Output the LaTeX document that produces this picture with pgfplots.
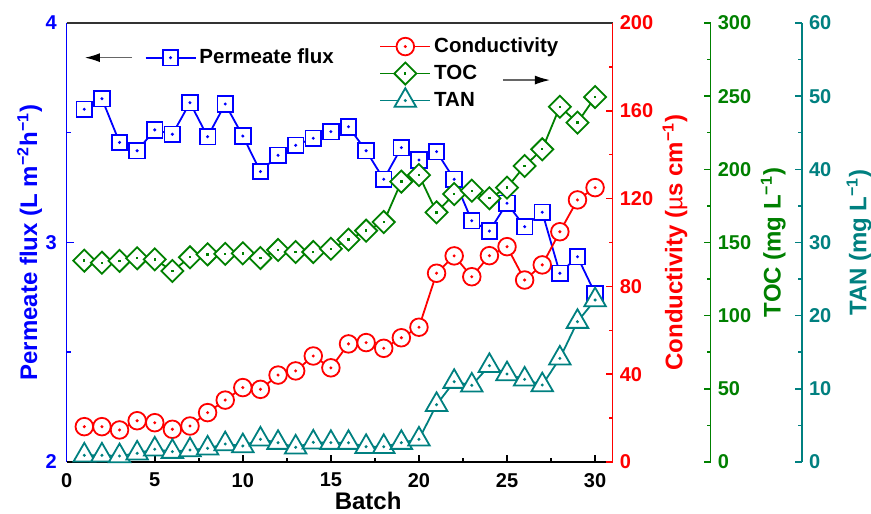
\documentclass[border=0pt]{standalone}
\usepackage{fontspec}
\setmainfont{Liberation Sans}
\usepackage{pgfplots}
\pgfplotsset{compat=1.18}
\usetikzlibrary{arrows.meta}

\definecolor{fluxblue}{RGB}{0,0,255}
\definecolor{condred}{RGB}{255,0,0}
\definecolor{tocgreen}{RGB}{0,128,0}
\definecolor{tanteal}{RGB}{0,128,128}

% open marks with a small dot in the middle
\pgfdeclareplotmark{sqdot}{%
  \pgfpathrectangle{\pgfqpoint{-\pgfplotmarksize}{-\pgfplotmarksize}}{\pgfqpoint{2\pgfplotmarksize}{2\pgfplotmarksize}}%
  \pgfusepathqfillstroke
  \pgfpathcircle{\pgfpointorigin}{0.2pt}\pgfusepathqstroke}
\pgfdeclareplotmark{cidot}{%
  \pgfpathcircle{\pgfpointorigin}{\pgfplotmarksize}\pgfusepathqfillstroke
  \pgfpathcircle{\pgfpointorigin}{0.2pt}\pgfusepathqstroke}
\pgfdeclareplotmark{tridot}{%
  \pgfpathmoveto{\pgfqpointpolar{90}{\pgfplotmarksize}}%
  \pgfpathlineto{\pgfqpointpolar{-30}{\pgfplotmarksize}}%
  \pgfpathlineto{\pgfqpointpolar{210}{\pgfplotmarksize}}%
  \pgfpathclose\pgfusepathqfillstroke
  \pgfpathcircle{\pgfpointorigin}{0.2pt}\pgfusepathqstroke}

\pgfplotstableread{
x flux cond toc tan
1 3.607 16.1 137.6 0.92
2 3.655 16.1 136.2 0.92
3 3.456 14.6 137.4 0.82
4 3.418 18.8 139.2 1.19
5 3.513 17.9 138.5 1.74
6 3.493 14.9 130.5 1.41
7 3.637 16.4 139.9 1.64
8 3.482 22.5 141.9 1.87
9 3.631 28.2 142.2 2.46
10 3.485 33.9 142.6 2.19
11 3.323 33.1 139.4 3.10
12 3.397 39.6 144.9 2.64
13 3.443 41.5 143.5 2.01
14 3.475 48.3 143.5 2.69
15 3.505 42.9 145.7 2.64
16 3.527 53.8 152.0 2.64
17 3.418 54.4 158.1 2.09
18 3.288 51.8 164.0 2.09
19 3.432 56.6 191.6 2.64
20 3.376 61.4 196.1 3.10
21 3.414 86.0 170.6 7.83
22 3.288 93.9 183.1 10.98
23 3.099 84.4 185.4 10.48
24 3.052 94.0 180.2 13.16
25 3.179 98.1 187.5 12.03
26 3.072 82.9 202.3 11.30
27 3.138 89.8 213.7 10.52
28 2.860 104.9 242.8 14.17
29 2.935 119.4 231.9 19.18
30 2.768 125.0 249.4 22.14
}\batches

\pgfplotsset{
  base/.style={
    scale only axis, width=273pt, height=219.5pt,
    xmin=0, xmax=31,
    tick align=inside, major tick length=3.5pt, minor tick length=2pt,
    axis line style={line width=0.75pt}, every tick/.style={line width=0.75pt},
    ticklabel style={font=\fontsize{10}{12}\selectfont\bfseries},
    /pgf/number format/assume math mode=true,
    label style={font=\fontsize{12}{14}\selectfont\bfseries},
    legend style={draw=none, fill=none, inner sep=0pt,
      font=\fontsize{10.25}{12}\selectfont\bfseries,
      nodes={inner sep=1.5pt, text height=8pt, text depth=2.5pt}},
    legend cell align=left,
    legend image code/.code={%
      \draw[mark repeat=2, mark phase=2] plot coordinates {(0pt,0pt) (12.5pt,0pt) (25pt,0pt)};},
  },
  ser/.style={line width=0.9pt, mark options={solid, fill=white, line width=0.9pt}},
  diam/.style={line width=0.9pt, mark options={solid, fill=white, line width=0.9pt, rotate=45}},
}

\begin{document}
\begin{tikzpicture}
\useasboundingbox (-33.35pt,-25.5pt) rectangle (402.15pt,231pt);

% permeate flux, left axis
\begin{axis}[base,
  ymin=2, ymax=4,
  axis x line*=bottom, axis y line*=left,
  xtick={0,5,...,30}, minor xtick={2.5,7.5,...,27.5},
  ytick={2,3,4}, minor ytick={2.5,3.5},
  x axis line style={black}, 
  y axis line style={fluxblue}, ytick style={fluxblue},
  yticklabel style={fluxblue, xshift=-1.5pt},
  xticklabel style={yshift=-2pt},
  xlabel={Batch},
  xlabel style={at={(axis description cs:0.552,-0.089)}, anchor=center},
  ylabel={Permeate flux (L m\textsuperscript{−2}h\textsuperscript{−1})},
  ylabel style={fluxblue, at={(axis description cs:-0.068,0.5)}, anchor=center},
  legend style={at={(axis description cs:0.142,0.921)}, anchor=west},
]
\addplot[fluxblue, ser, mark=sqdot, mark size=3.9pt] table[x=x, y=flux] {\batches};
\addlegendentry{Permeate flux}
\draw[black!60, line width=0.6pt, -{Latex[length=7.5pt, width=4.5pt, black]}]
  (axis description cs:0.1196,0.921) -- (axis description cs:0.0335,0.921);
\end{axis}

% conductivity, right axis
\begin{axis}[base,
  ymin=0, ymax=200,
  axis x line*=top, axis y line*=right,
  xtick=\empty, x axis line style={black!80},
  ytick={0,40,...,200}, minor ytick={20,60,...,180},
  y axis line style={condred}, ytick style={condred},
  yticklabel style={condred},
  ylabel={Conductivity ({\mdseries µ}s cm\textsuperscript{−1})},
  ylabel style={condred, at={(axis description cs:1.114,0.5)}, anchor=center},
  legend style={at={(axis description cs:0.572,0.978)}, anchor=north west},
]
\addplot[condred, ser, mark=cidot, mark size=4.4pt] table[x=x, y=cond] {\batches};
\addlegendentry{Conductivity}
\addlegendimage{tocgreen, diam, mark=sqdot, mark size=3.9pt}
\addlegendentry{TOC}
\addlegendimage{tanteal, ser, mark=tridot, mark size=6.2pt}
\addlegendentry{TAN}
\draw[black!60, line width=0.6pt, -{Latex[length=7.5pt, width=4.5pt, black]}]
  (axis description cs:0.799,0.870) -- (axis description cs:0.885,0.870);
\end{axis}

% TOC, first offset axis
\begin{axis}[base,
  ymin=0, ymax=300,
  hide x axis, axis y line*=right, axis y line shift=49pt,
  ytick={0,50,...,300}, minor ytick={25,75,...,275},
  y axis line style={tocgreen}, ytick style={tocgreen},
  yticklabel style={tocgreen},
  ylabel={TOC (mg L\textsuperscript{−1})},
  ylabel style={tocgreen, at={(axis description cs:1.294,0.5)}, anchor=center},
]
\addplot[tocgreen, diam, mark=sqdot, mark size=3.9pt] table[x=x, y=toc] {\batches};
\end{axis}

% TAN, second offset axis
\begin{axis}[base,
  ymin=0, ymax=60,
  hide x axis, axis y line*=right, axis y line shift=94.65pt,
  ytick={0,10,...,60}, minor ytick={5,15,...,55},
  y axis line style={tanteal}, ytick style={tanteal},
  yticklabel style={tanteal},
  ylabel={TAN (mg L\textsuperscript{−1})},
  ylabel style={tanteal, at={(axis description cs:1.451,0.5)}, anchor=center},
]
\addplot[tanteal, ser, mark=tridot, mark size=6.2pt] table[x=x, y=tan] {\batches};
\end{axis}
\end{tikzpicture}
\end{document}
